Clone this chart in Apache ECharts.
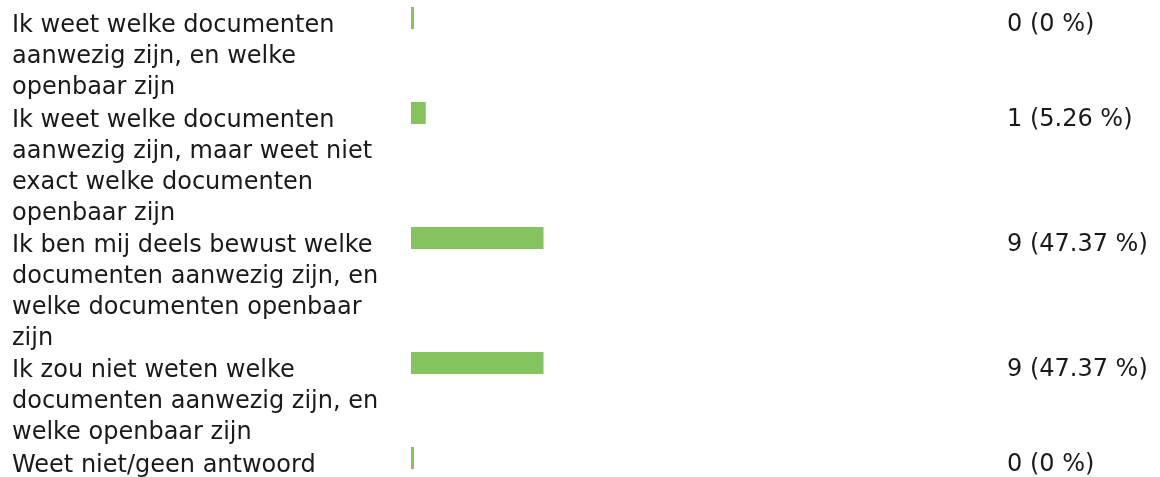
<!DOCTYPE html>
<html>
<head>
<meta charset="utf-8">
<script src="https://cdn.jsdelivr.net/npm/echarts@6/dist/echarts.min.js"></script>
<style>
html,body{margin:0;padding:0;background:#fff;}
#chart{width:1160px;height:477px;}
</style>
</head>
<body>
<div id="chart"></div>
<script>
var categories = [
  "Ik weet welke documenten\naanwezig zijn, en welke\nopenbaar zijn",
  "Ik weet welke documenten\naanwezig zijn, maar weet niet\nexact welke documenten\nopenbaar zijn",
  "Ik ben mij deels bewust welke\ndocumenten aanwezig zijn, en\nwelke documenten openbaar\nzijn",
  "Ik zou niet weten welke\ndocumenten aanwezig zijn, en\nwelke openbaar zijn",
  "Weet niet/geen antwoord"
];
var counts = [0, 1, 9, 9, 0];
var percents = ["0", "5.26", "47.37", "47.37", "0"];

var FONT = "DejaVu Sans";
var TEXT = "#1a1a1a";
var BAR = '#84c35e';

// table-like layout: each row is as tall as its wrapped label
var grids = [], xAxes = [], yAxes = [], series = [];
var rowTop = 7;
for (var i = 0; i < categories.length; i++) {
  var nLines = categories[i].split('\n').length;
  grids.push({left: 411, right: 160, top: rowTop, height: 22});
  xAxes.push({type: 'value', gridIndex: i, min: 0, max: 40, show: false});
  yAxes.push({type: 'category', gridIndex: i, data: [categories[i]],
    axisLine: {show: false}, axisTick: {show: false}, splitLine: {show: false},
    axisLabel: {show: false}});
  yAxes.push({type: 'category', gridIndex: i, data: [categories[i]], position: 'right',
    axisLine: {show: false}, axisTick: {show: false}, splitLine: {show: false},
    axisLabel: {show: true, margin: 7, align: 'left', verticalAlign: 'top', lineHeight: 13,
      fontFamily: FONT, fontSize: 24, color: TEXT,
      formatter: (function (k) { return function () { return counts[k] + ' (' + percents[k] + ' %)'; }; })(i)}});
  series.push({
    type: 'bar',
    xAxisIndex: i,
    yAxisIndex: 2 * i,
    data: [counts[i]],
    barWidth: 22,
    barMinHeight: 3,
    itemStyle: {color: BAR},
    label: {
      show: true,
      position: [-399, 3],
      align: 'left',
      verticalAlign: 'top',
      fontFamily: FONT,
      fontSize: 24,
      lineHeight: 31,
      color: TEXT,
      formatter: (function (k) { return function () { return categories[k]; }; })(i)
    }
  });
  rowTop += nLines * 30 + 5;
}

var chart = echarts.init(document.getElementById('chart'), null, {renderer: 'canvas'});
chart.setOption({
  animation: false,
  backgroundColor: '#ffffff',
  grid: grids,
  xAxis: xAxes,
  yAxis: yAxes,
  series: series
});
</script>
</body>
</html>
